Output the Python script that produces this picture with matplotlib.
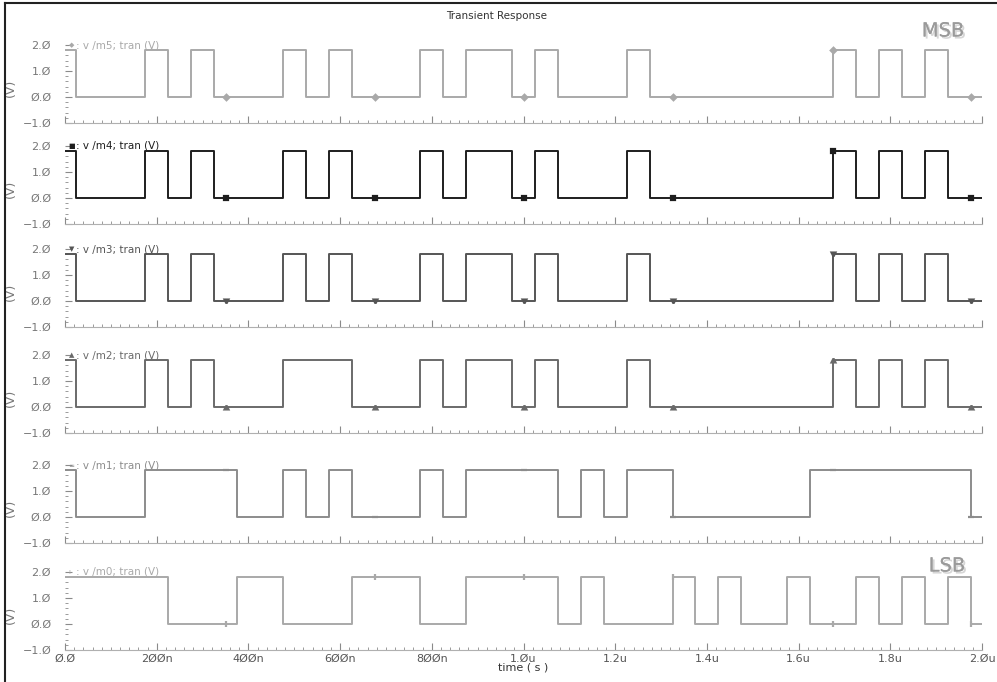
import matplotlib
matplotlib.use("Agg")
import matplotlib.pyplot as plt
import matplotlib.patheffects as pe
from matplotlib.lines import Line2D
from matplotlib.ticker import MultipleLocator
import numpy as np

# sample times (ns), one bit every 50 ns, held +-25 ns
t_ns = np.arange(0, 2001, 50)

H, L = 1.8, 0.0
m5 = [H, L, L, L, H, L, H, L, L, L, H, L, H, L, L, L, H, L, H, H, L,
      H, L, L, L, H, L, L, L, L, L, L, L, L, H, L, H, L, H, L, L]
m4 = list(m5)
m3 = list(m5)
m2 = [H, L, L, L, H, L, H, L, L, L, H, H, H, L, L, L, H, L, H, H, L,
      H, L, L, L, H, L, L, L, L, L, L, L, L, H, L, H, L, H, L, L]
m1 = [H, L, L, L, H, H, H, H, L, L, H, L, H, L, L, L, H, L, H, H, H,
      H, L, H, L, H, H, L, L, L, L, L, L, H, H, H, H, H, H, H, L]
m0 = [H, H, H, H, H, L, L, L, H, H, L, L, L, H, H, H, L, L, H, H, H,
      H, L, H, L, L, L, H, L, H, L, L, H, L, L, H, L, H, L, H, L]

names = ["m5", "m4", "m3", "m2", "m1", "m0"]
series = [m5, m4, m3, m2, m1, m0]
colors = ["#a9a9a9", "#1e1e1e", "#555555", "#6a6a6a", "#8c8c8c", "#a9a9a9"]
markers = ["D", "s", "v", "^", "_", "|"]
mark_glyph = ["◆", "■", "▼", "▲", "═", "ı"]
marker_t = [351, 676, 1001, 1326, 1676, 1976]

xticks_ns = np.arange(0, 2001, 200)
xtick_labels = ["Ø.Ø", "2ØØn", "4ØØn", "6ØØn", "8ØØn", "1.Øu",
                "1.2u", "1.4u", "1.6u", "1.8u", "2.Øu"]
yticks = [-1.0, 0.0, 1.0, 2.0]
ytick_labels = ["−1.Ø", "Ø.Ø", "1.Ø", "2.Ø"]

W, Hpx = 997, 682
fig = plt.figure(figsize=(W / 100, Hpx / 100), dpi=100)
plt.rcParams["font.family"] = ["DejaVu Sans"]

tops = [45, 146, 249, 355, 465, 572]
ph = 78
x0, x1 = 65, 982
tick_col = "#8a8a8a"

for i, (name, v) in enumerate(zip(names, series)):
    ax = fig.add_axes([x0 / W, 1 - (tops[i] + ph) / Hpx, (x1 - x0) / W, ph / Hpx])
    ax.step(t_ns, v, where="mid", color=colors[i], lw=1.4)
    idx = [int(round(tm / 50)) for tm in marker_t]
    msize = 4.5 if markers[i] in ("_", "|") else 2.8
    ax.plot(marker_t, [v[k] for k in idx], linestyle="none", marker=markers[i],
            color=colors[i], ms=msize, mew=1.6, clip_on=False)
    ax.set_xlim(0, 2000)
    ax.set_ylim(-1.0, 2.0)
    for s in ["top", "right", "left"]:
        ax.spines[s].set_visible(False)
    ax.spines["bottom"].set_color("#b0b0b0")
    ax.spines["bottom"].set_linewidth(0.8)
    ax.set_yticks(yticks)
    ax.set_yticklabels(ytick_labels, color="#777777", fontsize=8)
    ax.yaxis.set_minor_locator(MultipleLocator(0.2))
    ax.set_xticks(xticks_ns)
    ax.xaxis.set_minor_locator(MultipleLocator(20))
    ax.tick_params(axis="both", which="major", direction="in", length=5,
                   color=tick_col, width=0.8, pad=10)
    ax.tick_params(axis="both", which="minor", direction="in", length=2.5,
                   color=tick_col, width=0.6)
    ax.tick_params(axis="x", which="major", pad=3)
    if i == len(names) - 1:
        ax.set_xticklabels(xtick_labels, color="#555555", fontsize=8)
        ax.set_xlabel("time ( s )", fontsize=8, color="#333333", labelpad=-1)
    else:
        ax.set_xticklabels([])
    ax.set_ylabel("(V)", fontsize=9, color="#777777")
    ax.yaxis.set_label_coords(-0.053, 0.45)
    ax.text(0.004, 2.0, mark_glyph[i], transform=ax.get_yaxis_transform(),
            fontsize=5, color=colors[i], va="center", ha="left")
    ax.text(0.012, 2.0, ": v /" + name + "; tran (V)",
            transform=ax.get_yaxis_transform(), fontsize=7.5,
            color=colors[i], va="center", ha="left")

fig.text(497 / W, 1 - 16 / Hpx, "Transient Response", fontsize=7.5,
         color="#333333", ha="center", va="center")
shadow = [pe.withSimplePatchShadow(offset=(1.5, -1.5), shadow_rgbFace="#cccccc", alpha=0.8),
          pe.Normal()]
fig.text(943 / W, 1 - 31 / Hpx, "MSB", fontsize=14, color="#9a9a9a",
         ha="center", va="center", path_effects=shadow)
fig.text(947 / W, 1 - 566 / Hpx, "LSB", fontsize=14, color="#9a9a9a",
         ha="center", va="center", path_effects=shadow)

# outer frame lines (left and top edges)
fig.add_artist(Line2D([5 / W, 5 / W], [0, 1 - 3 / Hpx], color="#222222", lw=1.5))
fig.add_artist(Line2D([5 / W, 1], [1 - 3 / Hpx, 1 - 3 / Hpx], color="#222222", lw=1.5))

fig.savefig("out.png", dpi=100)
